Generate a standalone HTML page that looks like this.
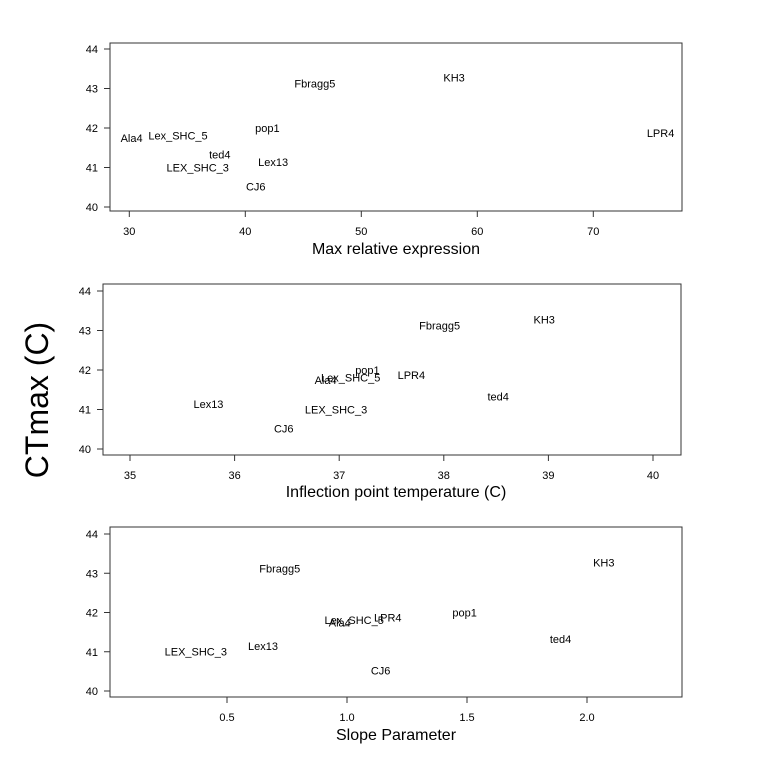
<!DOCTYPE html>
<html><head><meta charset="utf-8"><style>
body{margin:0;background:#fff}
svg{display:block;font-family:"Liberation Sans",Arial,sans-serif}
</style></head><body>
<svg id="c" width="766" height="784"></svg>
<script>
const strains=["Fbragg5","KH3","pop1","LPR4","Lex_SHC_5","Ala4","ted4","Lex13","LEX_SHC_3","CJ6"];
const ctmax=[43.1,43.25,41.97,41.85,41.78,41.72,41.3,41.12,40.98,40.5];
const maxExpr=[46,58,41.9,75.8,34.2,30.2,37.8,42.4,35.9,40.9];
const inflection=[37.96,38.96,37.27,37.69,37.11,36.87,38.52,35.75,36.97,36.47];
const slope=[0.72,2.07,1.49,1.17,1.03,0.97,1.89,0.65,0.37,1.14];
const yTicks=[40,41,42,43,44];
const xTicks1=[30,40,50,60,70];
const xTicks2=[35,36,37,38,39,40];
const xTicks3=[0.5,1.0,1.5,2.0];
const xTickLabels3=["0.5","1.0","1.5","2.0"];

const NS="http://www.w3.org/2000/svg";
const svg=document.getElementById('c');
function mk(t,a,p){const e=document.createElementNS(NS,t);for(const k in a)e.setAttribute(k,a[k]);(p||svg).appendChild(e);return e;}

const panels=[
 {name:"max-expression",xs:maxExpr,ticks:xTicks1,labels:xTicks1.map(String),left:110,right:682,top:43,bottom:211,x0:30,xp0:129.3,ppu:11.6,y44:49,y40:207,title:"Max relative expression",ty:254},
 {name:"inflection",xs:inflection,ticks:xTicks2,labels:xTicks2.map(String),left:103,right:681,top:284,bottom:455,x0:35,xp0:130,ppu:104.6,y44:291,y40:449,title:"Inflection point temperature (C)",ty:497},
 {name:"slope",xs:slope,ticks:xTicks3,labels:xTickLabels3,left:110,right:682,top:527,bottom:697,x0:0.5,xp0:227,ppu:240,y44:534,y40:691,title:"Slope Parameter",ty:740}
];
panels.forEach(p=>{
 const g=mk('g',{});
 
 
 const X=v=>p.xp0+(v-p.x0)*p.ppu;
 const Y=v=>p.y40-(v-40)*(p.y40-p.y44)/4;
 const box=mk('rect',{x:p.left,y:p.top,width:p.right-p.left,height:p.bottom-p.top,fill:'none',stroke:'#333','stroke-width':1},g);
 
 
 yTicks.forEach(t=>{
  mk('line',{x1:p.left-6,x2:p.left,y1:Y(t),y2:Y(t),stroke:'#333'},g);
  const tx=mk('text',{x:p.left-12,y:Y(t)+4,'text-anchor':'end','font-size':11},g);
  tx.textContent=t;
  
  
 });
 p.ticks.forEach((t,i)=>{
  mk('line',{x1:X(t),x2:X(t),y1:p.bottom,y2:p.bottom+6,stroke:'#333'},g);
  const tx=mk('text',{x:X(t),y:p.bottom+24,'text-anchor':'middle','font-size':11},g);
  tx.textContent=p.labels[i];
  
  
 });
 strains.forEach((s,i)=>{
  const tx=mk('text',{x:X(p.xs[i]),y:Y(ctmax[i])+3,'text-anchor':'middle','font-size':11},g);
  tx.textContent=s;
  
  
 });
 const tt=mk('text',{x:396,y:p.ty,'text-anchor':'middle','font-size':16},g);
 tt.textContent=p.title;
 
 
});
const yt=mk('text',{x:0,y:0,'text-anchor':'middle','font-size':32,transform:'translate(48,400) rotate(-90)'});
yt.textContent="CTmax (C)";


</script>
</body></html>
